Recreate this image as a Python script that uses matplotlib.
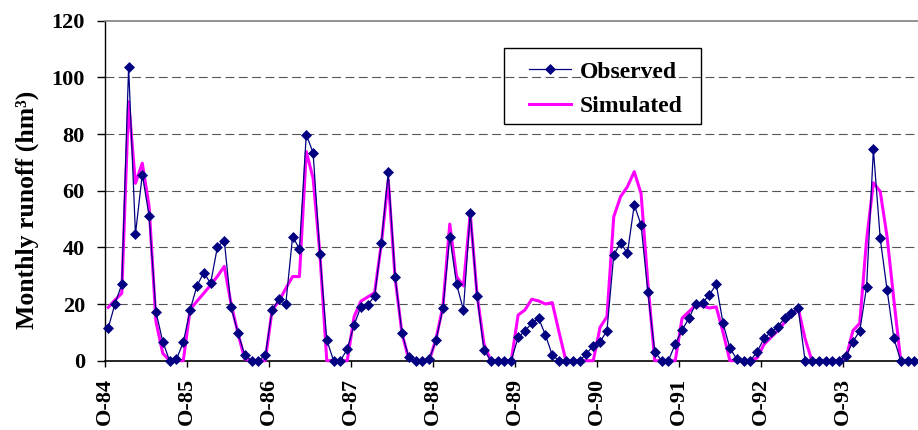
import matplotlib
matplotlib.use("Agg")
import matplotlib.pyplot as plt
from matplotlib.patches import Rectangle
import numpy as np

years = ["84", "85", "86", "87", "88", "89", "90", "91", "92", "93"]
tick_labels = ["O-" + y for y in years]

observed = [
    11.4, 20.0, 27.0, 103.7, 44.7, 65.7, 51.1, 17.3, 6.7, 0, 0.5, 6.5,
    17.9, 26.4, 31.1, 27.3, 40.2, 42.4, 18.8, 9.9, 2.0, 0, 0, 1.9,
    17.9, 21.7, 20.0, 43.8, 39.5, 79.8, 73.4, 37.5, 7.3, 0, 0, 4.1,
    12.6, 19.1, 19.7, 22.8, 41.7, 66.5, 29.7, 9.9, 1.2, 0, 0, 0.5,
    7.3, 18.5, 43.8, 27.0, 17.9, 52.2, 22.8, 3.8, 0, 0, 0, 0,
    8.2, 10.5, 13.2, 15.0, 9.1, 2.0, 0, 0, 0, 0, 2.4, 5.3,
    6.7, 10.5, 37.3, 41.7, 37.9, 55.0, 47.9, 24.1, 3.2, 0, 0, 5.9,
    10.8, 15.0, 20.0, 20.5, 23.2, 27.0, 13.2, 4.4, 0.6, 0, 0, 3.2,
    7.9, 10.0, 12.0, 15.0, 16.7, 18.5, 0, 0, 0, 0, 0, 0,
    1.7, 6.7, 10.5, 25.9, 74.6, 43.2, 25.0, 7.9, 0, 0, 0,
]

simulated = [
    18.8, 21.4, 23.8, 91.4, 62.6, 69.7, 54.4, 13.8, 2.6, 0, 0, 0,
    18.0, 21.0, 23.8, 26.7, 29.8, 33.3, 20.0, 9.7, 0.5, 0, 0, 0,
    17.9, 21.0, 25.5, 29.7, 29.7, 73.8, 64.4, 37.6, 0, 0, 0, 0,
    15.5, 21.0, 22.5, 24.0, 41.5, 63.8, 29.2, 9.7, 0.5, 0, 0, 0,
    7.8, 19.2, 48.2, 29.7, 26.4, 52.0, 23.2, 6.0, 0, 0, 0, 0,
    16.1, 17.9, 21.7, 21.1, 20.0, 20.5, 10.0, 0, 0, 0, 0, 0,
    11.8, 15.5, 50.8, 57.9, 61.4, 66.7, 59.0, 27.3, 0, 0, 0, 0,
    15.0, 17.3, 19.6, 19.3, 18.6, 19.0, 10.0, 0, 0, 0, 0, 1.0,
    5.8, 8.2, 10.6, 13.5, 15.8, 18.5, 7.8, 0, 0, 0, 0, 0,
    1.0, 10.6, 13.2, 42.6, 62.8, 59.7, 43.8, 21.4, 0, 0, 0,
]

SERIF = ["Liberation Serif", "DejaVu Serif"]
plt.rcParams["font.family"] = SERIF
plt.rcParams["font.weight"] = "bold"

W, H = 918, 430
fig = plt.figure(figsize=(W / 100, H / 100), dpi=100)
ax = fig.add_axes([104.7 / W, 1 - 360.7 / H, (917.8 - 104.7) / W, (360.7 - 20.7) / H])

n = len(observed)
x = np.arange(n) + 0.5

for yv in [20, 40, 60, 80, 100]:
    ax.axhline(yv, color="#555555", lw=0.8, dashes=(8, 4), zorder=1)

ax.plot(x, simulated, color="#FF00FF", lw=2.2, zorder=3, clip_on=False, label="Simulated")
ax.plot(x, observed, color="#000080", lw=0.9, marker="D", ms=4.6, mew=0.5,
        mfc="#000080", mec="#000080", zorder=4, clip_on=False, label="Observed")

ax.set_xlim(0, n)
ax.set_ylim(0, 120)
ax.set_yticks(range(0, 121, 20))
ax.set_yticklabels([str(v) for v in range(0, 121, 20)], fontsize=16, fontweight="bold")
ax.set_xticks(np.arange(0, 12 * len(tick_labels), 12))
ax.set_xticklabels(tick_labels, rotation=90, fontsize=16, fontweight="bold", va="top")
ax.tick_params(axis="y", direction="out", length=5.8, width=1, pad=8.4)
ax.tick_params(axis="x", direction="out", length=4.5, width=1, pad=8)

ax.spines["right"].set_visible(False)
ax.spines["top"].set_color("#808080")
ax.spines["top"].set_linewidth(1.2)
ax.spines["left"].set_linewidth(1)
ax.spines["bottom"].set_linewidth(1.2)

fig.text(27 / W, 1 - 209.5 / H, "Monthly runoff (hm³)", rotation=90,
         ha="center", va="center", fontsize=18.5, fontweight="bold")

handles, labels = ax.get_legend_handles_labels()
leg = ax.legend(handles[::-1], labels[::-1], loc="center",
                bbox_to_anchor=((605.5 - 104.7) / 813.1, (360.7 - 89) / 340),
                prop={"family": SERIF, "weight": "bold", "size": 17},
                frameon=False, handlelength=1.8, labelspacing=0.55,
                borderpad=0, handletextpad=0.35)
fig.patches.append(Rectangle((504 / W, 1 - 124.3 / H), 197 / W, 76.6 / H,
                             transform=fig.transFigure, fill=False,
                             edgecolor="black", lw=1, zorder=5))

fig.savefig("out.png", dpi=100)
